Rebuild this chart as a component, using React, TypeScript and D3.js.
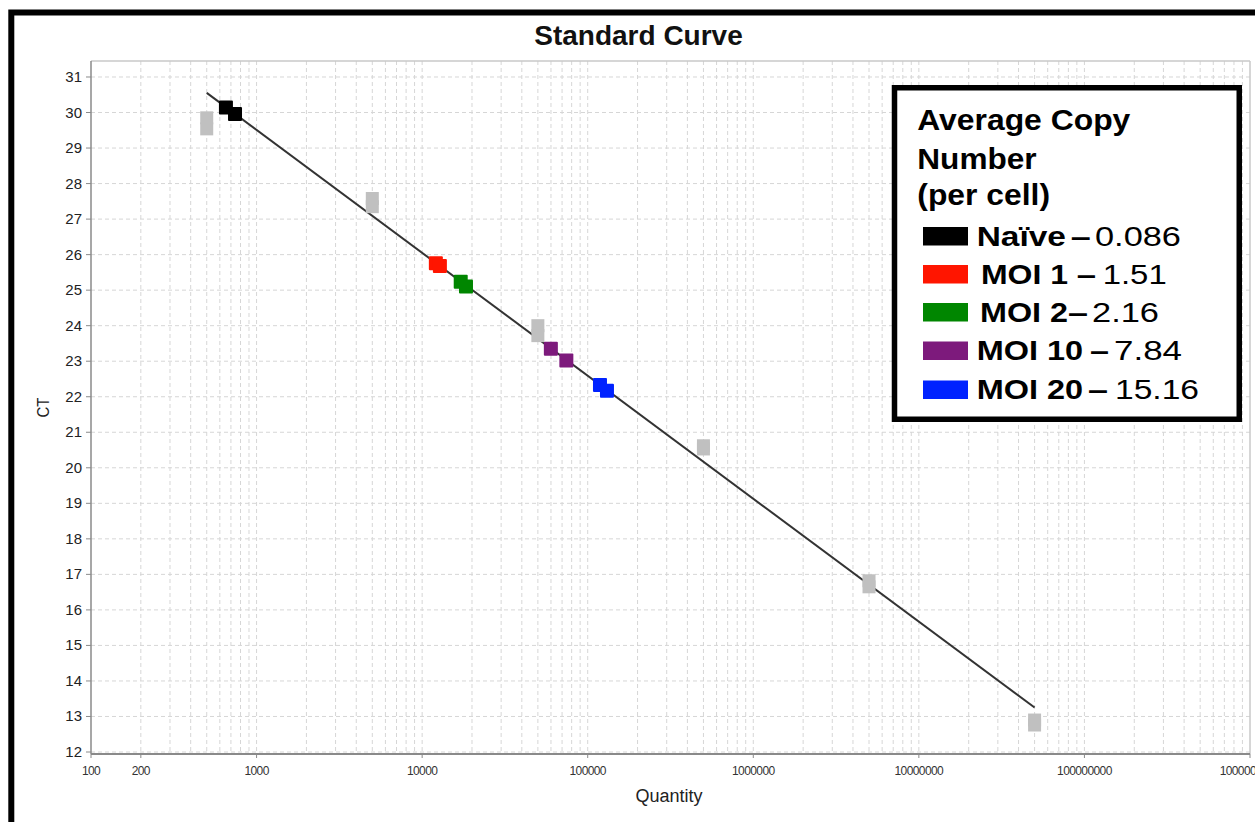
import React from 'react';
import * as d3 from 'd3';

// Standards (copies per reaction) with duplicate Ct readings
const stdQuantities = [500, 5000, 50000, 500000, 5000000, 50000000];
const stdCtRep1 = [29.85, 27.58, 24.0, 20.62, 16.82, 12.9];
const stdCtRep2 = [29.54, 27.35, 23.72, 20.53, 16.65, 12.76];

// Fitted standard curve: Ct = slope * log10(quantity) + intercept
const curveSlope = -3.46;
const curveIntercept = 39.89;

// Unknown samples (duplicates) and their average copy numbers
const sampleNames = ['Naïve', 'MOI 1', 'MOI 2', 'MOI 10', 'MOI 20'];
const sampleCopyNumbers = ['0.086', '1.51', '2.16', '7.84', '15.16'];
const sampleColors = ['#000000', '#ff1500', '#008600', '#7d1a7c', '#0022ff'];
const sampleQuantities = [
  [653, 741],
  [12100, 12800],
  [17100, 18400],
  [59900, 74300],
  [118600, 130700],
];
const sampleCts = [
  [30.14, 29.96],
  [25.76, 25.68],
  [25.24, 25.1],
  [23.35, 23.02],
  [22.33, 22.17],
];

const xTickValues = [100, 200, 1000, 10000, 100000, 1000000, 10000000, 100000000, 1000000000];
const yTickValues = d3.range(12, 32);

const W = 1255;
const H = 822;
const plot = { left: 91, right: 1250, top: 61, bottom: 754 };
const FONT = '"Liberation Sans", Arial, Helvetica, sans-serif';

// Legend text placement: name / dash / value pieces, with stretched widths
const legendRows = [
  { y: 245.5, nameX: 976.7, nameW: 89.3, dashX: 1070.7, dashW: 20, valX: 1095, valW: 86 },
  { y: 283.5, nameX: 981, nameW: 87, dashX: 1076.7, dashW: 19.3, valX: 1102.7, valW: 64 },
  { y: 321.5, nameX: 980, nameW: 88, dashX: 1068, dashW: 20, valX: 1092, valW: 67 },
  { y: 360, nameX: 976.7, nameW: 106.3, dashX: 1090, dashW: 19, valX: 1114, valW: 68 },
  { y: 399, nameX: 976.7, nameW: 106.3, dashX: 1088, dashW: 20, valX: 1115, valW: 84 },
];

export default function App() {
  const x = d3.scaleLog().domain([100, 1e9]).range([plot.left, plot.right]);
  const y = d3.scaleLinear().domain([11.944, 31.45]).range([plot.bottom, plot.top]);

  // minor/major vertical grid positions (2..9 × 10^d and decades)
  const vGrid: number[] = [];
  for (let d = 2; d <= 8; d++) {
    for (let m = 1; m <= 9; m++) {
      const v = m * Math.pow(10, d);
      if (v > 100) vGrid.push(v);
    }
  }

  const qMin = d3.min(stdQuantities) as number;
  const qMax = d3.max(stdQuantities) as number;
  const curve = d3
    .line<number>()
    .x((q) => x(q))
    .y((q) => y(curveSlope * Math.log10(q) + curveIntercept));

  const fmt = d3.format('d');
  const M = 14; // marker size

  return (
    <svg
      width={W}
      height={H}
      style={{ position: 'absolute', left: 0, top: 0, background: '#fff' }}
      fontFamily={FONT}
    >
      <rect x={0} y={0} width={W} height={H} fill="#fff" />
      {/* outer frame */}
      <rect x={11.3} y={12.5} width={1400} height={1000} fill="none" stroke="#000" strokeWidth={6} />

      {/* title */}
      <text x={638.5} y={45} textAnchor="middle" fontSize={28} fontWeight="bold" fill="#111">
        Standard Curve
      </text>

      {/* grid */}
      <g stroke="#d6d6d6" strokeWidth={1} strokeDasharray="4,3">
        {vGrid.map((v) => (
          <line key={'v' + v} x1={x(v)} x2={x(v)} y1={plot.top} y2={plot.bottom} />
        ))}
        {yTickValues.map((v) => (
          <line key={'h' + v} x1={plot.left} x2={plot.right} y1={y(v)} y2={y(v)} />
        ))}
      </g>
      {/* plot border */}
      <line x1={plot.left} x2={plot.right} y1={plot.top} y2={plot.top} stroke="#c8c8c8" strokeWidth={1.5} />
      <line x1={plot.right} x2={plot.right} y1={plot.top} y2={plot.bottom} stroke="#c8c8c8" strokeWidth={1.5} />

      {/* axes */}
      <line x1={plot.left} x2={plot.left} y1={plot.top} y2={plot.bottom} stroke="#8a8a8a" strokeWidth={1.5} />
      <line x1={plot.left} x2={plot.right} y1={plot.bottom} y2={plot.bottom} stroke="#8a8a8a" strokeWidth={2} />

      {yTickValues.map((v) => (
        <g key={'yt' + v}>
          <line x1={plot.left - 5} x2={plot.left} y1={y(v)} y2={y(v)} stroke="#8a8a8a" strokeWidth={1} />
          <text x={82} y={y(v) + 5} textAnchor="end" fontSize={15} fill="#222">
            {v}
          </text>
        </g>
      ))}
      {xTickValues.map((v) => (
        <g key={'xt' + v}>
          <line x1={x(v)} x2={x(v)} y1={plot.bottom} y2={plot.bottom + 4} stroke="#8a8a8a" strokeWidth={1} />
          <text x={x(v)} y={775} textAnchor="middle" fontSize={12} letterSpacing={-0.6} fill="#333">
            {fmt(v)}
          </text>
        </g>
      ))}

      {/* axis titles */}
      <text x={669} y={802} textAnchor="middle" fontSize={18} fill="#222">
        Quantity
      </text>
      <text
        transform="translate(48.5,407.5) rotate(-90)"
        textAnchor="middle"
        fontSize={17}
        fill="#222"
        textLength={20}
        lengthAdjust="spacingAndGlyphs"
      >
        CT
      </text>

      {/* standard curve */}
      <path d={curve([qMin, qMax]) as string} fill="none" stroke="#333" strokeWidth={2} />

      {/* standards */}
      <g fill="#c0c0c0">
        {stdQuantities.map((q, i) =>
          [stdCtRep1[i], stdCtRep2[i]].map((ct, j) => (
            <rect key={'s' + i + '-' + j} x={x(q) - 6.5} y={y(ct) - 6.5} width={13} height={13} />
          ))
        )}
      </g>

      {/* unknown samples */}
      {sampleQuantities.map((qs, i) =>
        qs.map((q, j) => (
          <rect
            key={'u' + i + '-' + j}
            x={x(q) - M / 2}
            y={y(sampleCts[i][j]) - M / 2}
            width={M}
            height={M}
            rx={1}
            fill={sampleColors[i]}
          />
        ))
      )}

      {/* legend */}
      <rect x={894.5} y={87.75} width={344.75} height={331.5} fill="#fff" stroke="#000" strokeWidth={5.5} />
      <g fontWeight="bold" fontSize={29} fill="#000">
        <text x={917.3} y={130} textLength={213} lengthAdjust="spacingAndGlyphs">
          Average Copy
        </text>
        <text x={917.3} y={168.5} textLength={119.3} lengthAdjust="spacingAndGlyphs">
          Number
        </text>
        <text x={917.3} y={205} textLength={132.7} lengthAdjust="spacingAndGlyphs">
          (per cell)
        </text>
      </g>
      {sampleNames.map((name, i) => {
        const r = legendRows[i];
        return (
          <g key={'lg' + i} fontSize={27} fill="#000">
            <rect x={923} y={r.y - 18.5} width={45} height={18.5} fill={sampleColors[i]} />
            <text x={r.nameX} y={r.y} fontWeight="bold" textLength={r.nameW} lengthAdjust="spacingAndGlyphs">
              {name}
            </text>
            <text x={r.dashX} y={r.y} fontWeight="bold" textLength={r.dashW} lengthAdjust="spacingAndGlyphs">
              –
            </text>
            <text x={r.valX} y={r.y} textLength={r.valW} lengthAdjust="spacingAndGlyphs">
              {sampleCopyNumbers[i]}
            </text>
          </g>
        );
      })}
    </svg>
  );
}
